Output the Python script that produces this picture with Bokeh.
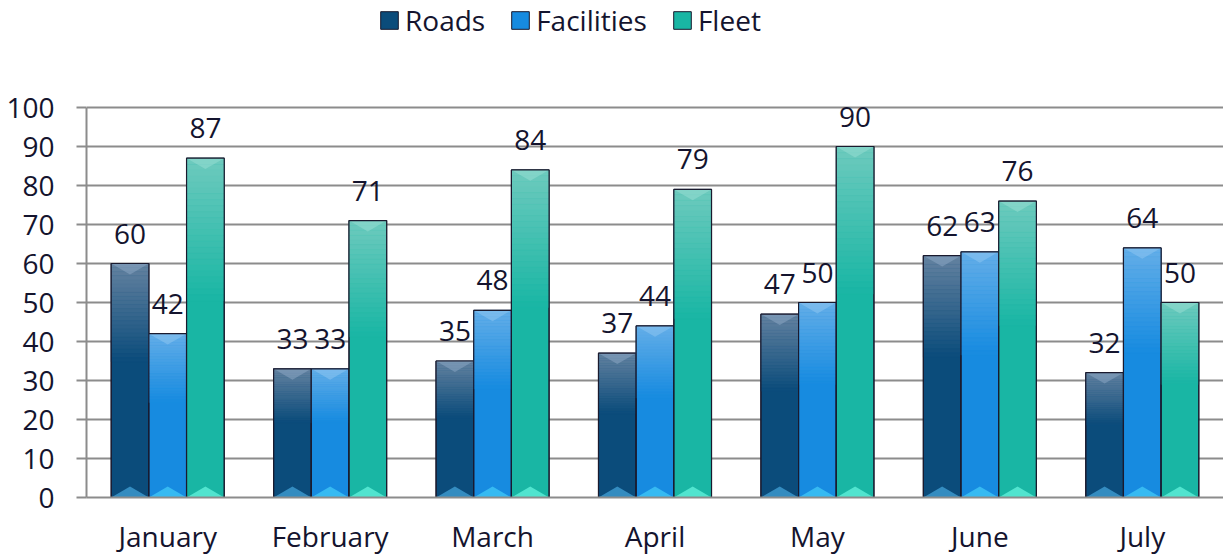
from bokeh.plotting import figure
from bokeh.models import Range1d, FixedTicker, Legend, LegendItem, ColumnDataSource
from bokeh.core.properties import value
from bokeh.embed import file_html
from bokeh.resources import INLINE

months = ["January", "February", "March", "April", "May", "June", "July"]
series = ["Roads", "Facilities", "Fleet"]
roads = [60, 33, 35, 37, 47, 62, 32]
facilities = [42, 33, 48, 44, 50, 63, 64]
fleet = [87, 71, 84, 79, 90, 76, 50]
y_ticks = list(range(0, 101, 10))

values = [roads, facilities, fleet]
main_colors = ["#0b4c7b", "#178be0", "#19b6a4"]
top_colors = ["#6482a0", "#64aee8", "#6ecabe"]
bevel_top = ["#8aa6c2", "#8cc4f0", "#95dcd2"]
bevel_bot = ["#3f9cd2", "#3fc6f6", "#5ff0da"]
offsets = [-0.232, 0.0, 0.232]
bar_w = 0.232
TXT = "#14142e"
FONT = "Open Sans"
FS = "28px"

# frame spans full height above the x axis; 0..100 occupies the lower 390 px
y_top = 100 * 497 / 390

p = figure(width=1223, height=557, output_backend="svg", toolbar_location=None,
           x_range=Range1d(0, 7), y_range=Range1d(0, y_top),
           min_border_left=86, min_border_right=0, min_border_top=0, min_border_bottom=60)
p.outline_line_color = None
p.background_fill_color = "white"
p.border_fill_color = "white"

def hex2rgb(h):
    h = h.lstrip("#")
    return [int(h[i:i + 2], 16) for i in (0, 2, 4)]

def mix(a, b, t):
    ra, rb = hex2rgb(a), hex2rgb(b)
    return "#%02x%02x%02x" % tuple(int(round(ra[i] + (rb[i] - ra[i]) * t)) for i in range(3))

legend_items = []
N = 24
frac = 0.42
for si in range(3):
    xs = [i + 0.5 + offsets[si] for i in range(7)]
    vals = values[si]
    base = p.vbar(x=xs, top=vals, bottom=0, width=bar_w, fill_color=main_colors[si],
                  line_color="#1a1a2e", line_width=1)
    legend_items.append(LegendItem(label=series[si], renderers=[base]))
    L, R, T, B, C = [], [], [], [], []
    for x, v in zip(xs, vals):
        span = v * frac
        for k in range(N):
            t0 = v - span * k / N
            t1 = v - span * (k + 1) / N
            L.append(x - bar_w / 2); R.append(x + bar_w / 2)
            T.append(t0); B.append(t1)
            C.append(mix(top_colors[si], main_colors[si], (k + 0.5) / N))
    p.quad(left=L, right=R, top=T, bottom=B, fill_color=C, line_color=C, line_width=0.5)
    txs, tys, bxs, bys = [], [], [], []
    for x, v in zip(xs, vals):
        txs.append([x - bar_w / 2, x + bar_w / 2, x])
        tys.append([v, v, v - 2.8])
        bxs.append([x - bar_w / 2, x + bar_w / 2, x])
        bys.append([0, 0, 2.8])
    p.patches(xs=txs, ys=tys, fill_color=bevel_top[si], fill_alpha=0.55, line_color=None)
    p.patches(xs=bxs, ys=bys, fill_color=bevel_bot[si], fill_alpha=0.8, line_color=None)
    p.vbar(x=xs, top=vals, bottom=0, width=bar_w, fill_color=None,
           line_color="#1a1a2e", line_width=1.2)
    src = ColumnDataSource(dict(x=xs, y=vals, t=[str(v) for v in vals]))
    p.text(x="x", y="y", text="t", source=src, text_align="center",
           text_baseline="alphabetic", y_offset=-30, text_font_size=FS,
           text_color=TXT, text_font=value(FONT))

p.xaxis.ticker = FixedTicker(ticks=[i + 0.5 for i in range(7)])
p.xaxis.major_label_overrides = {i + 0.5: m for i, m in enumerate(months)}
p.xaxis.major_tick_line_color = None
p.xaxis.minor_tick_line_color = None
p.xaxis.major_tick_out = 0
p.xaxis.axis_line_color = "#8c8c8c"
p.xaxis.axis_line_width = 2
p.xaxis.major_label_standoff = 19
p.xgrid.grid_line_color = None

p.yaxis.ticker = FixedTicker(ticks=y_ticks)
p.yaxis.bounds = (0, 100)
p.yaxis.axis_line_color = "#8c8c8c"
p.yaxis.axis_line_width = 2
p.yaxis.major_tick_line_color = "#8c8c8c"
p.yaxis.major_tick_line_width = 2
p.yaxis.major_tick_out = 10
p.yaxis.major_tick_in = 0
p.yaxis.minor_tick_line_color = None
p.yaxis.major_label_standoff = 22
p.ygrid.grid_line_color = "#8c8c8c"
p.ygrid.grid_line_width = 2

for ax in (p.xaxis, p.yaxis):
    ax.major_label_text_font = FONT
    ax.major_label_text_font_size = FS
    ax.major_label_text_color = TXT

legend = Legend(items=legend_items, orientation="horizontal", location=(292, 458),
                glyph_width=22, glyph_height=22, label_standoff=5, spacing=24,
                padding=0, margin=0, border_line_color=None, background_fill_alpha=0,
                label_text_font=FONT, label_text_font_size=FS, label_text_color=TXT)
p.add_layout(legend)

open("out.html", "w").write(file_html(p, INLINE))
